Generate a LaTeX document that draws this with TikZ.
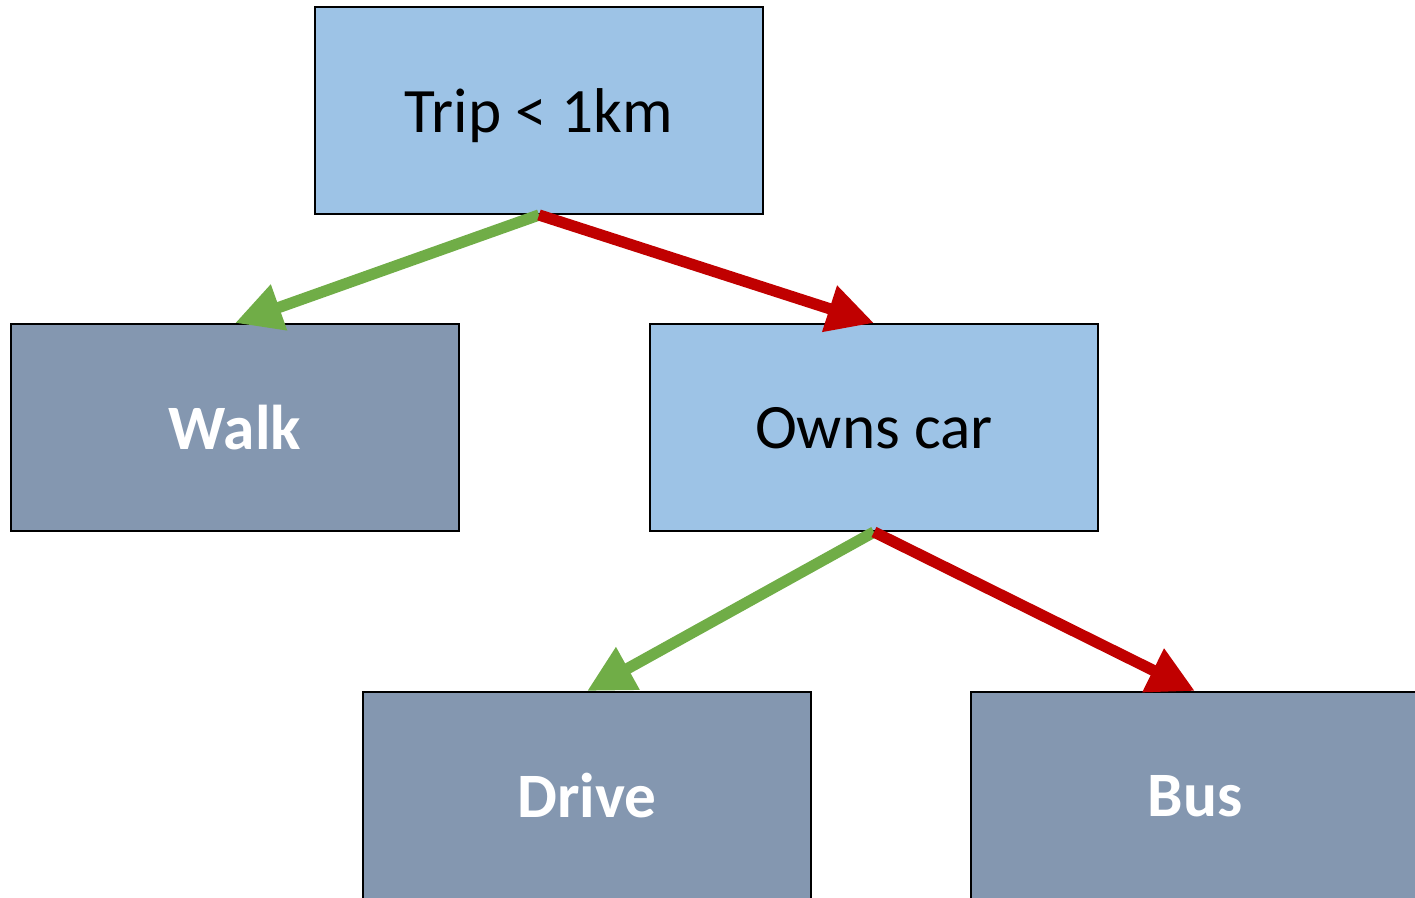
\documentclass[tikz,border=0pt]{standalone}
\usepackage{fontspec}
\setmainfont{Carlito}
\usetikzlibrary{arrows.meta}
\definecolor{decisionfill}{HTML}{9DC3E6}
\definecolor{leaffill}{HTML}{8497B0}
\definecolor{yesgreen}{HTML}{70AD47}
\definecolor{nored}{HTML}{C00000}
\tikzset{
  boxbase/.style={draw=black, line width=1.1pt, minimum width=8.96cm, minimum height=4.14cm,
    inner sep=0pt, text depth=0pt, font=\fontsize{36}{43}\selectfont},
  decision/.style={boxbase, fill=decisionfill, text=black},
  leaf/.style={boxbase, fill=leaffill, text=white, font=\fontsize{36}{43}\selectfont\bfseries},
  branch/.style={line width=6.4pt, -{Triangle[length=26.6pt, width=26pt]}},
  yes/.style={branch, draw=yesgreen, fill=yesgreen},
  no/.style={branch, draw=nored, fill=nored},
}
\begin{document}
\begin{tikzpicture}
  \useasboundingbox (0,0) rectangle (28.3,-17.94);
  \begin{scope}
    \clip (0,0) rectangle (28.3,-17.94);
    \node[decision] (trip)  at (10.78,-2.21) {Trip < 1km};
    \node[leaf]     (walk)  at (4.70,-8.55)  {Walk};
    \node[decision] (owns)  at (17.48,-8.55) {Owns car};
    \node[leaf]     (drive) at (11.74,-15.91) {Drive};
    \node[leaf]     (bus)   at (23.90,-15.91) {Bus};
    \draw[yes] (trip.south) -- (walk.north);
    \draw[no]  (trip.south) -- (owns.north);
    \draw[yes] (owns.south) -- (drive.north);
    \draw[no]  (owns.south) -- (bus.north);
  \end{scope}
\end{tikzpicture}
\end{document}
